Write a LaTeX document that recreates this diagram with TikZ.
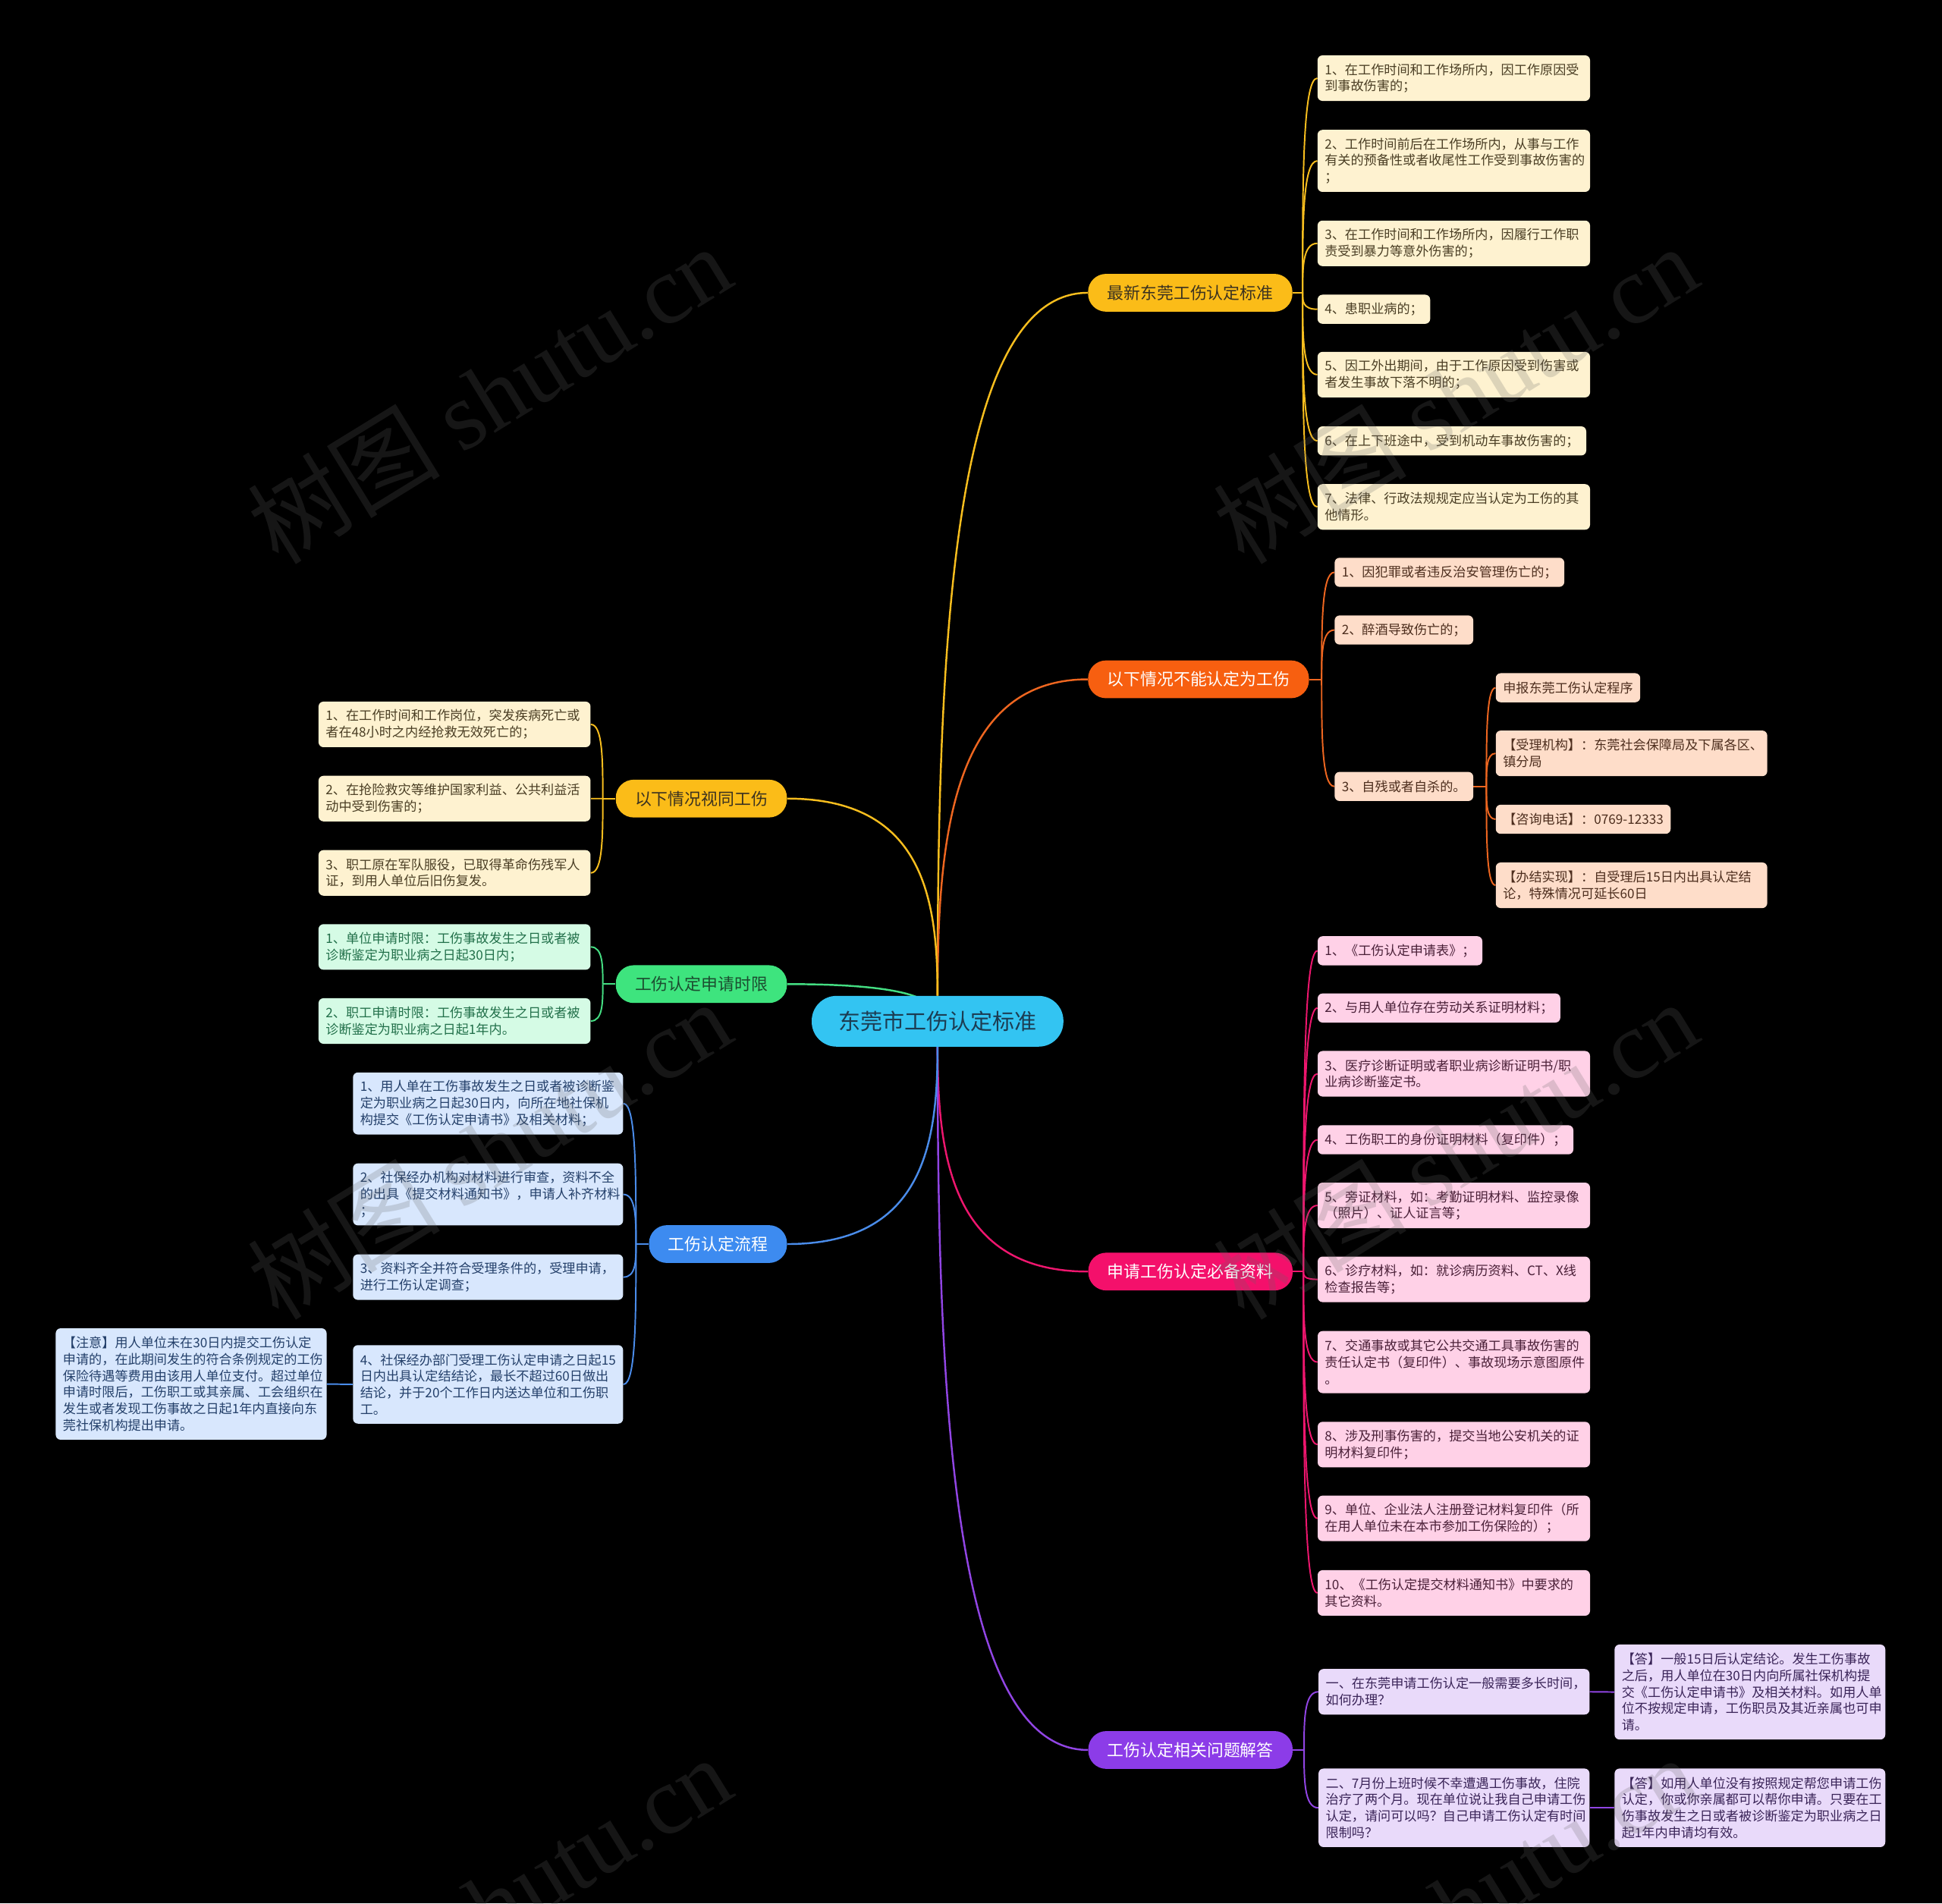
\documentclass[tikz,border=0pt]{standalone}
\usepackage{fontspec}
\setmainfont{Noto Sans CJK SC}
\newfontfamily\wmfont{Liberation Serif}
\usetikzlibrary{calc,backgrounds}

\definecolor{bgc}{HTML}{000000}
\definecolor{rootc}{HTML}{33C4F2}
\definecolor{roottx}{HTML}{1C3C52}
% yellow
\definecolor{ypill}{HTML}{FBBC18}
\definecolor{ypilltx}{HTML}{3B3220}
\definecolor{yline}{HTML}{F8BE1E}
\definecolor{yleaf}{HTML}{FEF2D0}
\definecolor{ytx}{HTML}{4A3E24}
% orange
\definecolor{opill}{HTML}{F75F10}
\definecolor{oline}{HTML}{EE6620}
\definecolor{oleaf}{HTML}{FEDDC9}
\definecolor{otx}{HTML}{4D2E1E}
% pink
\definecolor{ppill}{HTML}{F4106B}
\definecolor{pline}{HTML}{EE166E}
\definecolor{pleaf}{HTML}{FFD1E7}
\definecolor{ptx}{HTML}{4A2038}
% purple
\definecolor{vpill}{HTML}{8C3CE8}
\definecolor{vline}{HTML}{9145E4}
\definecolor{vleaf}{HTML}{E9DAFA}
\definecolor{vtx}{HTML}{3A2458}
% green
\definecolor{gpill}{HTML}{3EE47E}
\definecolor{gpilltx}{HTML}{1C4D30}
\definecolor{gline}{HTML}{44DD82}
\definecolor{gleaf}{HTML}{D5FBE5}
\definecolor{gtx}{HTML}{22704A}
% blue
\definecolor{bpill}{HTML}{3D8BF0}
\definecolor{bline}{HTML}{4A8CEA}
\definecolor{bleaf}{HTML}{D8E7FD}
\definecolor{btx}{HTML}{24406A}

\newcommand\leaffont{\fontsize{10.5}{13.3}\selectfont}
\newcommand\pillfont{\fontsize{13.4}{16}\selectfont}
\newcommand\rootfont{\fontsize{17.8}{21}\selectfont}

\tikzset{
  rootnode/.style={fill=rootc, text=roottx, rounded corners=20pt, minimum height=41pt,
    inner xsep=21.5pt, inner ysep=0pt, font=\rootfont},
  pill/.style={rounded corners=14.5pt, minimum height=30.5pt, inner xsep=15.5pt,
    inner ysep=0pt, font=\pillfont},
  leaf/.style={rounded corners=4pt, inner xsep=5.8pt, inner ysep=0pt, align=left, font=\leaffont},
  la/.style={leaf, minimum height=23.5pt},
  lb/.style={leaf, minimum height=36.8pt},
  lc/.style={leaf, minimum height=50.1pt},
  ld/.style={leaf, minimum height=63.4pt},
  le/.style={leaf, minimum height=76.7pt},
  lf/.style={leaf, minimum height=90pt},
  yl/.style={fill=yleaf, text=ytx},
  ol/.style={fill=oleaf, text=otx},
  pl/.style={fill=pleaf, text=ptx},
  vl/.style={fill=vleaf, text=vtx},
  gl/.style={fill=gleaf, text=gtx},
  bl/.style={fill=bleaf, text=btx},
  conn/.style={line width=1.5pt},
  sub/.style={line width=1.2pt},
  wm/.style={text=black!60, opacity=0.22, rotate=31.6, font=\fontsize{78}{80}\selectfont}
}

\begin{document}
\begin{tikzpicture}[x=1pt, y=-1pt]
\useasboundingbox (0,0) rectangle (1568,1537);

% root and main branches
\node[rootnode] (root) at (757,824.6) {东莞市工伤认定标准};
\node[pill, fill=ypill, text=ypilltx, anchor=west] (b1) at (878.3,236.4) {最新东莞工伤认定标准};
\node[pill, fill=opill, text=white, anchor=west] (b2) at (878.3,548.5) {以下情况不能认定为工伤};
\node[pill, fill=ppill, text=white, anchor=west] (b3) at (878.5,1026.7) {申请工伤认定必备资料};
\node[pill, fill=vpill, text=white, anchor=west] (b4) at (878.5,1413) {工伤认定相关问题解答};
\node[pill, fill=ypill, text=ypilltx, anchor=east] (l1) at (635.6,644.8) {以下情况视同工伤};
\node[pill, fill=gpill, text=gpilltx, anchor=east] (l2) at (635.6,794.6) {工伤认定申请时限};
\node[pill, fill=bpill, text=white, anchor=east] (l3) at (635.6,1004.5) {工伤认定流程};

% branch 1 leaves
\node[lb, yl, anchor=west, text width=208.4pt] (y11) at (1063.6,63.1) {1、在工作时间和工作场所内，因工作原因受\\到事故伤害的；};
\node[lc, yl, anchor=west, text width=208.4pt] (y12) at (1063.6,129.9) {2、工作时间前后在工作场所内，从事与工作\\有关的预备性或者收尾性工作受到事故伤害的\\；};
\node[lb, yl, anchor=west, text width=208.4pt] (y13) at (1063.6,196.5) {3、在工作时间和工作场所内，因履行工作职\\责受到暴力等意外伤害的；};
\node[la, yl, anchor=west] (y14) at (1063.6,249.7) {4、患职业病的；};
\node[lb, yl, anchor=west, text width=208.4pt] (y15) at (1063.6,302.5) {5、因工外出期间，由于工作原因受到伤害或\\者发生事故下落不明的；};
\node[la, yl, anchor=west] (y16) at (1063.6,356) {6、在上下班途中，受到机动车事故伤害的；};
\node[lb, yl, anchor=west, text width=208.4pt] (y17) at (1063.6,409.3) {7、法律、行政法规规定应当认定为工伤的其\\他情形。};

% branch 2 leaves
\node[la, ol, anchor=west] (o1) at (1077.4,462.1) {1、因犯罪或者违反治安管理伤亡的；};
\node[la, ol, anchor=west] (o2) at (1077.4,508.7) {2、醉酒导致伤亡的；};
\node[la, ol, anchor=west] (o3) at (1077.4,635) {3、自残或者自杀的。};
\node[la, ol, anchor=west] (o31) at (1207.5,555.3) {申报东莞工伤认定程序};
\node[lb, ol, anchor=west, text width=207.6pt] (o32) at (1207.5,608.3) {【受理机构】：东莞社会保障局及下属各区、\\镇分局};
\node[la, ol, anchor=west] (o33) at (1207.5,661.5) {【咨询电话】：0769-12333};
\node[lb, ol, anchor=west, text width=207.6pt] (o34) at (1207.5,714.8) {【办结实现】：自受理后15日内出具认定结\\论，特殊情况可延长60日};

% branch 3 leaves
\node[la, pl, anchor=west] (p1) at (1063.7,767.7) {1、《工伤认定申请表》；};
\node[la, pl, anchor=west] (p2) at (1063.7,813.9) {2、与用人单位存在劳动关系证明材料；};
\node[lb, pl, anchor=west, text width=208.3pt] (p3) at (1063.7,867) {3、医疗诊断证明或者职业病诊断证明书/职\\业病诊断鉴定书。};
\node[la, pl, anchor=west] (p4) at (1063.7,920.3) {4、工伤职工的身份证明材料（复印件）；};
\node[lb, pl, anchor=west, text width=208.3pt] (p5) at (1063.7,973.3) {5、旁证材料，如：考勤证明材料、监控录像\\（照片）、证人证言等；};
\node[lb, pl, anchor=west, text width=208.3pt] (p6) at (1063.7,1033) {6、诊疗材料，如：就诊病历资料、CT、X线\\检查报告等；};
\node[lc, pl, anchor=west, text width=208.3pt] (p7) at (1063.7,1099.8) {7、交通事故或其它公共交通工具事故伤害的\\责任认定书（复印件）、事故现场示意图原件\\。};
\node[lb, pl, anchor=west, text width=208.3pt] (p8) at (1063.7,1166.4) {8、涉及刑事伤害的，提交当地公安机关的证\\明材料复印件；};
\node[lb, pl, anchor=west, text width=208.3pt] (p9) at (1063.7,1226) {9、单位、企业法人注册登记材料复印件（所\\在用人单位未在本市参加工伤保险的）；};
\node[lb, pl, anchor=west, text width=208.3pt] (p10) at (1063.7,1286.2) {10、《工伤认定提交材料通知书》中要求的\\其它资料。};

% branch 4 leaves
\node[lb, vl, anchor=west, text width=207.2pt] (q1) at (1064.4,1366) {一、在东莞申请工伤认定一般需要多长时间，\\如何办理？};
\node[le, vl, anchor=west, text width=207pt] (a1) at (1303.4,1366.2) {【答】一般15日后认定结论。发生工伤事故\\之后，用人单位在30日内向所属社保机构提\\交《工伤认定申请书》及相关材料。如用人单\\位不按规定申请，工伤职员及其近亲属也可申\\请。};
\node[ld, vl, anchor=west, text width=207.2pt] (q2) at (1064.4,1459.7) {二、7月份上班时候不幸遭遇工伤事故，住院\\治疗了两个月。现在单位说让我自己申请工伤\\认定，请问可以吗？自己申请工伤认定有时间\\限制吗？};
\node[ld, vl, anchor=west, text width=207pt] (a2) at (1303.4,1459.7) {【答】如用人单位没有按照规定帮您申请工伤\\认定，你或你亲属都可以帮你申请。只要在工\\伤事故发生之日或者被诊断鉴定为职业病之日\\起1年内申请均有效。};

% left yellow leaves
\node[lb, yl, anchor=east, text width=208pt] (v1) at (477,584.9) {1、在工作时间和工作岗位，突发疾病死亡或\\者在48小时之内经抢救无效死亡的；};
\node[lb, yl, anchor=east, text width=208pt] (v2) at (477,644.8) {2、在抢险救灾等维护国家利益、公共利益活\\动中受到伤害的；};
\node[lb, yl, anchor=east, text width=208pt] (v3) at (477,704.8) {3、职工原在军队服役，已取得革命伤残军人\\证，到用人单位后旧伤复发。};

% left green leaves
\node[lb, gl, anchor=east, text width=208pt] (t1) at (477,764.6) {1、单位申请时限：工伤事故发生之日或者被\\诊断鉴定为职业病之日起30日内；};
\node[lb, gl, anchor=east, text width=208pt] (t2) at (477,824.4) {2、职工申请时限：工伤事故发生之日或者被\\诊断鉴定为职业病之日起1年内。};

% left blue leaves
\node[lc, bl, anchor=east, text width=206.5pt] (f1) at (503.3,891) {1、用人单在工伤事故发生之日或者被诊断鉴\\定为职业病之日起30日内，向所在地社保机\\构提交《工伤认定申请书》及相关材料；};
\node[lc, bl, anchor=east, text width=206.5pt] (f2) at (503.3,964.4) {2、社保经办机构对材料进行审查，资料不全\\的出具《提交材料通知书》，申请人补齐材料\\；};
\node[lb, bl, anchor=east, text width=206.5pt] (f3) at (503.3,1031.2) {3、资料齐全并符合受理条件的，受理申请，\\进行工伤认定调查；};
\node[ld, bl, anchor=east, text width=206.5pt] (f4) at (503.3,1117.8) {4、社保经办部门受理工伤认定申请之日起15\\日内出具认定结结论，最长不超过60日做出\\结论，并于20个工作日内送达单位和工伤职\\工。};
\node[lf, bl, anchor=east, text width=207.1pt] (nt) at (263.9,1117.5) {【注意】用人单位未在30日内提交工伤认定\\申请的，在此期间发生的符合条例规定的工伤\\保险待遇等费用由该用人单位支付。超过单位\\申请时限后，工伤职工或其亲属、工会组织在\\发生或者发现工伤事故之日起1年内直接向东\\莞社保机构提出申请。};

% junctions
\coordinate (j1) at ($(b1.east)+(8,0)$);
\coordinate (j2) at ($(b2.east)+(10,0)$);
\coordinate (j3) at ($(b3.east)+(8.5,0)$);
\coordinate (j4) at ($(b4.east)+(9,0)$);
\coordinate (jo3) at ($(o3.east)+(10.4,0)$);
\coordinate (jl1) at ($(l1.west)+(-10.3,0)$);
\coordinate (jl2) at ($(l2.west)+(-10.3,0)$);
\coordinate (jl3) at ($(l3.west)+(-10.3,0)$);

\begin{pgfonlayer}{background}
\fill[bgc] (0,0) rectangle (1568,1537);
% main connectors
\draw[conn, yline] (root.north) .. controls ($(root.north)!0.5!(root.north |- b1.west)$) and ($(root.north |- b1.west)!0.1!(b1.west)$) .. (b1.west);
\draw[conn, oline] (root.north) .. controls ($(root.north)!0.5!(root.north |- b2.west)$) and ($(root.north |- b2.west)!0.1!(b2.west)$) .. (b2.west);
\draw[conn, pline] (root.south) .. controls ($(root.south)!0.5!(root.south |- b3.west)$) and ($(root.south |- b3.west)!0.1!(b3.west)$) .. (b3.west);
\draw[conn, vline] (root.south) .. controls ($(root.south)!0.5!(root.south |- b4.west)$) and ($(root.south |- b4.west)!0.1!(b4.west)$) .. (b4.west);
\draw[conn, yline] (root.north) .. controls ($(root.north)!0.5!(root.north |- l1.east)$) and ($(root.north |- l1.east)!0.1!(l1.east)$) .. (l1.east);
\draw[conn, gline] (root.center) .. controls ($(root.center)!0.5!(root.center |- l2.east)$) and ($(root.center |- l2.east)!0.1!(l2.east)$) .. (l2.east);
\draw[conn, bline] (root.south) .. controls ($(root.south)!0.5!(root.south |- l3.east)$) and ($(root.south |- l3.east)!0.1!(l3.east)$) .. (l3.east);

% stubs
\draw[sub, yline] (b1.east) -- (j1);
\draw[sub, oline] (b2.east) -- (j2);
\draw[sub, pline] (b3.east) -- (j3);
\draw[sub, vline] (b4.east) -- (j4);
\draw[sub, oline] (o3.east) -- (jo3);
\draw[sub, yline] (l1.west) -- (jl1);
\draw[sub, gline] (l2.west) -- (jl2);
\draw[sub, bline] (l3.west) -- (jl3);

% leaf connectors
\foreach \n in {y11,y12,y13,y14,y15,y16,y17}
  \draw[sub, yline] (j1) .. controls ($(j1)!0.5!(j1 |- \n.west)$) and (j1 |- \n.west) .. (\n.west);
\foreach \n in {o1,o2,o3}
  \draw[sub, oline] (j2) .. controls ($(j2)!0.5!(j2 |- \n.west)$) and (j2 |- \n.west) .. (\n.west);
\foreach \n in {o31,o32,o33,o34}
  \draw[sub, oline] (jo3) .. controls ($(jo3)!0.5!(jo3 |- \n.west)$) and (jo3 |- \n.west) .. (\n.west);
\foreach \n in {p1,p2,p3,p4,p5,p6,p7,p8,p9,p10}
  \draw[sub, pline] (j3) .. controls ($(j3)!0.5!(j3 |- \n.west)$) and (j3 |- \n.west) .. (\n.west);
\foreach \n in {q1,q2}
  \draw[sub, vline] (j4) .. controls ($(j4)!0.5!(j4 |- \n.west)$) and (j4 |- \n.west) .. (\n.west);
\foreach \n in {v1,v2,v3}
  \draw[sub, yline] (jl1) .. controls ($(jl1)!0.5!(jl1 |- \n.east)$) and (jl1 |- \n.east) .. (\n.east);
\foreach \n in {t1,t2}
  \draw[sub, gline] (jl2) .. controls ($(jl2)!0.5!(jl2 |- \n.east)$) and (jl2 |- \n.east) .. (\n.east);
\foreach \n in {f1,f2,f3,f4}
  \draw[sub, bline] (jl3) .. controls ($(jl3)!0.5!(jl3 |- \n.east)$) and (jl3 |- \n.east) .. (\n.east);
\draw[sub, vline] (q1.east) -- (a1.west);
\draw[sub, vline] (q2.east) -- (a2.west);
\draw[sub, bline] (f4.west) -- (nt.east);
\end{pgfonlayer}

% watermarks
\node[wm] (wm1) at (395,318) {树图 {\wmfont shutu.cn}};
\node[wm] (wm2) at (1175,318) {树图 {\wmfont shutu.cn}};
\node[wm] (wm3) at (395,928) {树图 {\wmfont shutu.cn}};
\node[wm] (wm4) at (1175,928) {树图 {\wmfont shutu.cn}};
\node[wm] (wm5) at (395,1538) {树图 {\wmfont shutu.cn}};
\node[wm] (wm6) at (1175,1538) {树图 {\wmfont shutu.cn}};
\end{tikzpicture}
\end{document}
